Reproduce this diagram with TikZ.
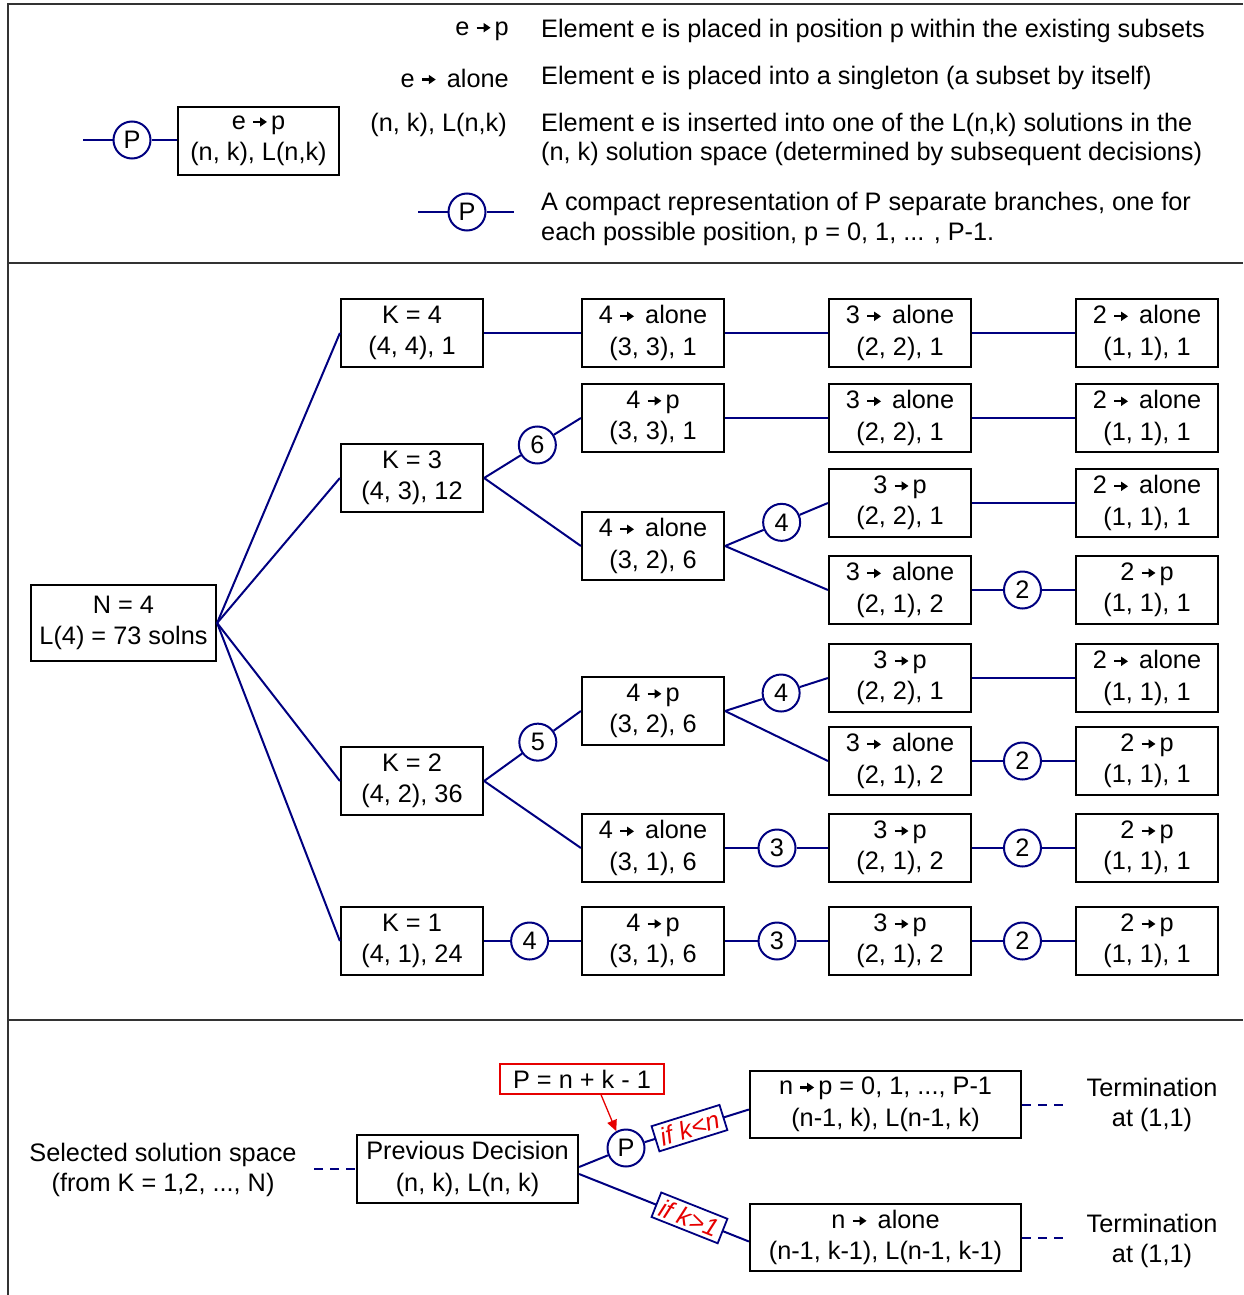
\documentclass[tikz,border=0pt]{standalone}
\usepackage{fontspec}
\setmainfont{Liberation Sans}
\usetikzlibrary{arrows.meta,calc}
\definecolor{navy}{RGB}{0,0,128}
\definecolor{myred}{RGB}{230,0,0}
\newcommand{\ra}{\hspace{6pt}\tikz[baseline=0pt]{\draw[line width=2.2pt,black,-{Triangle[length=7pt,width=9pt]}] (0pt,7.5pt) -- (14pt,7.5pt);}\hspace{3pt}}
\begin{document}
\begin{tikzpicture}[x=1pt,y=-1pt,
  every node/.style={font=\fontsize{25.3}{29.5}\selectfont, inner sep=0pt},
  box/.style={draw=black, line width=2.2pt, fill=white, minimum width=142pt, minimum height=68pt, align=center, font=\fontsize{25.3}{31.5}\selectfont},
  circ/.style={circle, draw=navy, line width=2pt, fill=white, minimum size=37pt},
  conn/.style={draw=navy, line width=2pt},
  dashconn/.style={draw=navy, line width=2pt, dash pattern=on 9pt off 7pt},
  frame/.style={draw=black!80, line width=2pt},
  lab/.style={draw=navy, line width=1.8pt, fill=white, text=myred, font=\fontsize{25.3}{29}\selectfont\itshape, inner xsep=5pt, inner ysep=4pt},
  txt/.style={align=center}
]
\useasboundingbox (0,0) rectangle (1243,1295);
% frame
\draw[frame] (8,1295) -- (8,4) -- (1243,4);
\draw[frame] (8,263) -- (1243,263);
\draw[frame] (8,1020) -- (1243,1020);

% ---------- legend ----------
\coordinate (la) at (83,140);
\node[circ] (lc) at (132,140) {P};
\node[box, minimum width=161pt] (lbox) at (258.5,141) {e\ra p\\(n, k), L(n,k)};
\draw[conn] (la) -- (lc) -- (lbox.west |- lc);

\node[anchor=east] (t1) at (509,31) {e\ra p};
\node[anchor=east] (t2) at (509,78) {e\ra{} alone};
\node[anchor=east] (t3) at (507,125) {(n, k), L(n,k)};
\coordinate (lpa) at (418,212);
\coordinate (lpb) at (514,212);
\node[circ] (lpc) at (467,212) {P};
\draw[conn] (lpa) -- (lpc) -- (lpb);

\node[anchor=west] (d1) at (541,31) {Element e is placed in position p within the existing subsets};
\node[anchor=west] (d2) at (541,78) {Element e is placed into a singleton (a subset by itself)};
\node[anchor=west, align=left] (d3) at (541,139.5) {Element e is inserted into one of the L(n,k) solutions in the\\(n, k) solution space (determined by subsequent decisions)};
\node[anchor=west, align=left] (d4) at (541,219) {A compact representation of P separate branches, one for\\each possible position, p = 0, 1, ... , P-1.};

% ---------- tree ----------
\node[box, minimum width=185pt, minimum height=76pt] (n) at (123.5,623) {N = 4\\L(4) = 73 solns};
\node[box] (k4) at (412,333) {K = 4\\(4, 4), 1};
\node[box] (k3) at (412,478) {K = 3\\(4, 3), 12};
\node[box] (k2) at (412,781) {K = 2\\(4, 2), 36};
\node[box] (k1) at (412,941) {K = 1\\(4, 1), 24};

\node[box] (b1) at (653,333) {4\ra{} alone\\(3, 3), 1};
\node[box] (b2) at (653,418) {4\ra p\\(3, 3), 1};
\node[box] (b3) at (653,546) {4\ra{} alone\\(3, 2), 6};
\node[box] (b4) at (653,711) {4\ra p\\(3, 2), 6};
\node[box] (b5) at (653,848) {4\ra{} alone\\(3, 1), 6};
\node[box] (b6) at (653,941) {4\ra p\\(3, 1), 6};

\node[box] (c1) at (900,333) {3\ra{} alone\\(2, 2), 1};
\node[box] (c2) at (900,418) {3\ra{} alone\\(2, 2), 1};
\node[box] (c3) at (900,503) {3\ra p\\(2, 2), 1};
\node[box] (c4) at (900,590) {3\ra{} alone\\(2, 1), 2};
\node[box] (c5) at (900,678) {3\ra p\\(2, 2), 1};
\node[box] (c6) at (900,761) {3\ra{} alone\\(2, 1), 2};
\node[box] (c7) at (900,848) {3\ra p\\(2, 1), 2};
\node[box] (c8) at (900,941) {3\ra p\\(2, 1), 2};

\node[box] (e1) at (1147,333) {2\ra{} alone\\(1, 1), 1};
\node[box] (e2) at (1147,418) {2\ra{} alone\\(1, 1), 1};
\node[box] (e3) at (1147,503) {2\ra{} alone\\(1, 1), 1};
\node[box] (e4) at (1147,590) {2\ra p\\(1, 1), 1};
\node[box] (e5) at (1147,678) {2\ra{} alone\\(1, 1), 1};
\node[box] (e6) at (1147,761) {2\ra p\\(1, 1), 1};
\node[box] (e7) at (1147,848) {2\ra p\\(1, 1), 1};
\node[box] (e8) at (1147,941) {2\ra p\\(1, 1), 1};

% root edges
\draw[conn] (n.east) -- (k4.west);
\draw[conn] (n.east) -- (k3.west);
\draw[conn] (n.east) -- (k2.west);
\draw[conn] (n.east) -- (k1.west);

% straight chains
\draw[conn] (k4.east) -- (b1.west);
\draw[conn] (b1.east) -- (c1.west);
\draw[conn] (c1.east) -- (e1.west);
\draw[conn] (b2.east) -- (c2.west);
\draw[conn] (c2.east) -- (e2.west);
\draw[conn] (c3.east) -- (e3.west);
\draw[conn] (c5.east) -- (e5.west);

% circles
\node[circ] (p6) at ($(k3.east)!0.55!(b2.west)$) {6};
\draw[conn] (k3.east) -- (p6) -- (b2.west);
\draw[conn] (k3.east) -- (b3.west);

\node[circ] (p4a) at ($(b3.east)!0.55!(c3.west)$) {4};
\draw[conn] (b3.east) -- (p4a) -- (c3.west);
\draw[conn] (b3.east) -- (c4.west);
\node[circ] (p2a) at ($(c4.east)!0.49!(e4.west)$) {2};
\draw[conn] (c4.east) -- (p2a) -- (e4.west);

\node[circ] (p5) at ($(k2.east)!0.555!(b4.west)$) {5};
\draw[conn] (k2.east) -- (p5) -- (b4.west);
\draw[conn] (k2.east) -- (b5.west);

\node[circ] (p4b) at ($(b4.east)!0.545!(c5.west)$) {4};
\draw[conn] (b4.east) -- (p4b) -- (c5.west);
\draw[conn] (b4.east) -- (c6.west);
\node[circ] (p2b) at ($(c6.east)!0.49!(e6.west)$) {2};
\draw[conn] (c6.east) -- (p2b) -- (e6.west);

\node[circ] (p3a) at ($(b5.east)!0.505!(c7.west)$) {3};
\draw[conn] (b5.east) -- (p3a) -- (c7.west);
\node[circ] (p2c) at ($(c7.east)!0.49!(e7.west)$) {2};
\draw[conn] (c7.east) -- (p2c) -- (e7.west);

\node[circ] (p4c) at ($(k1.east)!0.47!(b6.west)$) {4};
\draw[conn] (k1.east) -- (p4c) -- (b6.west);
\node[circ] (p3b) at ($(b6.east)!0.505!(c8.west)$) {3};
\draw[conn] (b6.east) -- (p3b) -- (c8.west);
\node[circ] (p2d) at ($(c8.east)!0.49!(e8.west)$) {2};
\draw[conn] (c8.east) -- (p2d) -- (e8.west);

% ---------- bottom ----------
\node[txt] (sel) at (163,1170) {Selected solution space\\(from K = 1,2, ..., N)};
\coordinate (sd) at (314,1169);
\node[box, minimum width=221pt] (prev) at (467.5,1169) {Previous Decision\\(n, k), L(n, k)};
\draw[dashconn] (sd) -- (prev.west);

\node[box, minimum width=271pt, minimum height=67pt] (up) at (885.5,1104.5) {n\ra p = 0, 1, ..., P-1\\(n-1, k), L(n-1, k)};
\node[box, minimum width=271pt, minimum height=67pt] (low) at (885.5,1237.5) {n\ra{} alone\\(n-1, k-1), L(n-1, k-1)};

\node[circ] (pc) at (626,1148) {P};
\node[draw=myred, line width=1.3pt, fill=white, minimum width=164pt, minimum height=30pt] (pbox) at (582,1079) {P = n + k - 1};
\draw[myred, line width=1.3pt, -{Triangle[length=11pt,width=10pt]}] ([xshift=19pt]pbox.south) -- (pc.120);

\draw[conn] ([yshift=2pt]prev.east) -- (pc);
\draw[conn] (pc) -- node[lab, sloped, pos=0.43] (lk1) {if k<n} ([yshift=-5pt]up.west);
\draw[conn] ([yshift=-5pt]prev.east) -- node[lab, sloped, pos=0.65] (lk2) {if k>1} ([yshift=-4pt]low.west);

\coordinate (ud) at (1068,1105);
\coordinate (lowd) at (1068,1238);
\draw[dashconn] (up.east |- ud) -- (ud);
\draw[dashconn] (low.east |- lowd) -- (lowd);
\node[txt] (term1) at (1152,1105) {Termination\\at (1,1)};
\node[txt] (term2) at (1152,1241) {Termination\\at (1,1)};
\end{tikzpicture}
\end{document}
